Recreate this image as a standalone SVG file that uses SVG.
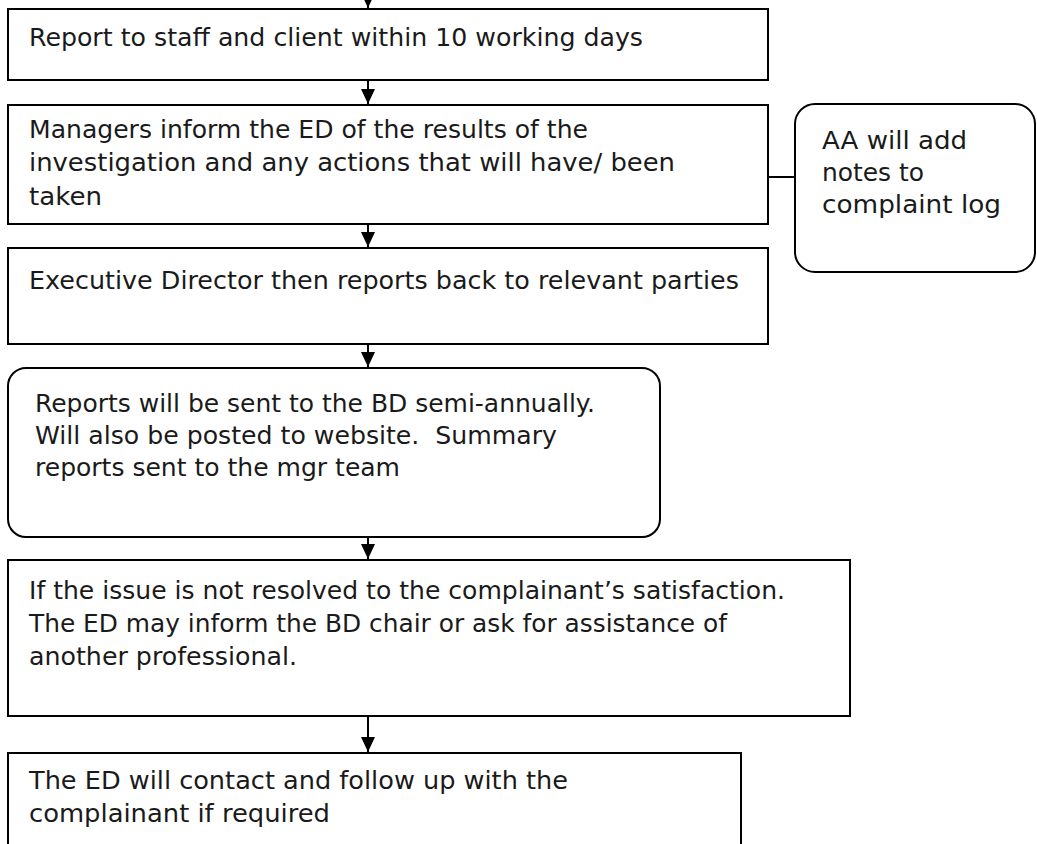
<svg xmlns="http://www.w3.org/2000/svg" width="1037" height="844" viewBox="0 0 1037 844">
<style>
.box{fill:#fff;stroke:#000;stroke-width:2}
.t{font-family:"DejaVu Sans","Liberation Sans",sans-serif;font-size:24px;fill:#1a1a1a}
.c{stroke:#000;stroke-width:2;fill:none}
</style>
<defs>
<marker id="ah" markerUnits="userSpaceOnUse" markerWidth="15" markerHeight="14" refX="15" refY="7" orient="auto">
<path d="M0,0 L15,7 L0,14 z" fill="#000"/>
</marker>
</defs>
<rect width="1037" height="844" fill="#fff"/>
<g id="connectors">
<line class="c" x1="368" y1="-20" x2="368" y2="8" marker-end="url(#ah)"/>
<line class="c" x1="368" y1="80" x2="368" y2="104" marker-end="url(#ah)"/>
<line class="c" x1="368" y1="224" x2="368" y2="247" marker-end="url(#ah)"/>
<line class="c" x1="368" y1="344" x2="368" y2="367" marker-end="url(#ah)"/>
<line class="c" x1="368" y1="537" x2="368" y2="559" marker-end="url(#ah)"/>
<line class="c" x1="368" y1="716" x2="368" y2="752" marker-end="url(#ah)"/>
<line class="c" x1="768" y1="177" x2="795" y2="177"/>
</g>
<g id="n1">
<rect class="box" x="8" y="9" width="760" height="71"/>
<text class="t" x="29" y="46" textLength="614" lengthAdjust="spacingAndGlyphs">Report to staff and client within 10 working days</text>
</g>
<g id="n2">
<rect class="box" x="8" y="105" width="760" height="119"/>
<text class="t" x="29" y="138" textLength="559" lengthAdjust="spacingAndGlyphs">Managers inform the ED of the results of the</text>
<text class="t" x="29" y="171" textLength="646" lengthAdjust="spacingAndGlyphs">investigation and any actions that will have/ been</text>
<text class="t" x="29" y="205" textLength="73" lengthAdjust="spacingAndGlyphs">taken</text>
</g>
<g id="n_side">
<rect class="box" x="795" y="104" width="240" height="168" rx="20" ry="20"/>
<text class="t" x="822" y="149" textLength="145" lengthAdjust="spacingAndGlyphs">AA will add</text>
<text class="t" x="822" y="181" textLength="102" lengthAdjust="spacingAndGlyphs">notes to</text>
<text class="t" x="822" y="213" textLength="179" lengthAdjust="spacingAndGlyphs">complaint log</text>
</g>
<g id="n3">
<rect class="box" x="8" y="248" width="760" height="96"/>
<text class="t" x="29" y="289" textLength="710" lengthAdjust="spacingAndGlyphs">Executive Director then reports back to relevant parties</text>
</g>
<g id="n4">
<rect class="box" x="8" y="368" width="652" height="169" rx="18" ry="18"/>
<text class="t" x="35" y="412" textLength="560" lengthAdjust="spacingAndGlyphs">Reports will be sent to the BD semi-annually.</text>
<text class="t" x="35" y="444" textLength="522" lengthAdjust="spacingAndGlyphs" xml:space="preserve">Will also be posted to website.  Summary</text>
<text class="t" x="35" y="476" textLength="365" lengthAdjust="spacingAndGlyphs">reports sent to the mgr team</text>
</g>
<g id="n5">
<rect class="box" x="8" y="560" width="842" height="156"/>
<text class="t" x="29" y="599" textLength="756" lengthAdjust="spacingAndGlyphs">If the issue is not resolved to the complainant’s satisfaction.</text>
<text class="t" x="29" y="632" textLength="698" lengthAdjust="spacingAndGlyphs">The ED may inform the BD chair or ask for assistance of</text>
<text class="t" x="29" y="665" textLength="268" lengthAdjust="spacingAndGlyphs">another professional.</text>
</g>
<g id="n6">
<rect class="box" x="8" y="753" width="733" height="120"/>
<text class="t" x="29" y="789" textLength="539" lengthAdjust="spacingAndGlyphs">The ED will contact and follow up with the</text>
<text class="t" x="29" y="822" textLength="301" lengthAdjust="spacingAndGlyphs">complainant if required</text>
</g>
</svg>
